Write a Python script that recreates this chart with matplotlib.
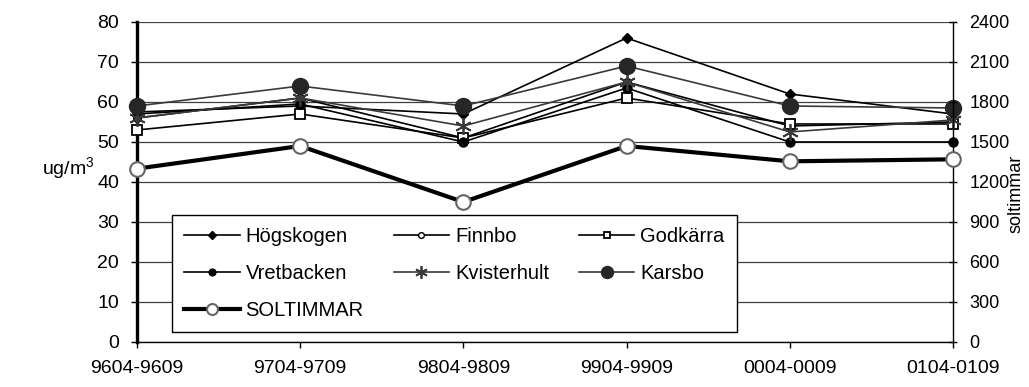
import matplotlib
matplotlib.use("Agg")
import matplotlib.pyplot as plt

plt.rcParams["font.family"] = ["Liberation Sans", "DejaVu Sans"]
plt.rcParams["mathtext.default"] = "regular"

periods = ["9604-9609", "9704-9709", "9804-9809", "9904-9909", "0004-0009", "0104-0109"]
hogskogen = [57.5, 59, 57, 76, 62, 57]
finnbo = [56, 61, 51, 65, 54, 55]
godkarra = [53, 57, 51, 61, 54.5, 54.5]
vretbacken = [57, 59.5, 50, 63.5, 50, 50]
kvisterhult = [56, 61, 54, 65, 52.5, 55.5]
karsbo = [59, 64, 59, 69, 59, 58.5]
soltimmar = [1300, 1470, 1050, 1470, 1355, 1370]

DARK = "#3a3a3a"
GRID = "#404040"
x = list(range(len(periods)))

fig = plt.figure(figsize=(10.29, 3.87), dpi=100)
ax = fig.add_axes([0.1331, 0.1163, 0.7930, 0.8269])
ax2 = ax.twinx()

common = dict(clip_on=False, zorder=3)
h1, = ax.plot(x, hogskogen, color="black", lw=1.2, marker="D", ms=5.5, mfc="black", mec="black", label="Högskogen", **common)
h2, = ax.plot(x, finnbo, color="black", lw=1.2, marker="o", ms=5.5, mfc="white", mec="black", label="Finnbo", **common)
h3, = ax.plot(x, godkarra, color="black", lw=1.2, marker="s", ms=6.5, mfc="white", mec="black", mew=1.3, label="Godkärra", **common)
h4, = ax.plot(x, vretbacken, color="black", lw=1.2, marker="o", ms=6.5, mfc="black", mec="black", label="Vretbacken", **common)
h5, = ax.plot(x, kvisterhult, color=DARK, lw=1.2, marker=(6, 2, 0), ms=12, mec=DARK, mew=1.3, label="Kvisterhult", **common)
h6, = ax.plot(x, karsbo, color=DARK, lw=1.2, marker="o", ms=11.5, mfc="#262626", mec="#262626", label="Karsbo", **common)
h7, = ax2.plot(x, soltimmar, color="black", lw=3, marker="o", ms=10.5, mfc="white", mec="#666666", mew=1.5,
               label="SOLTIMMAR", clip_on=False, zorder=3)

ax.set_xlim(0, 5)
ax.set_ylim(0, 80)
ax.set_yticks(range(0, 81, 10))
ax2.set_ylim(0, 2400)
ax2.set_yticks(range(0, 2401, 300))
ax.set_xticks(x)
ax.set_xticklabels(periods)

ax.yaxis.grid(True, color=GRID, lw=0.9)
ax.set_axisbelow(True)
ax.spines["top"].set_visible(False)
ax2.spines["top"].set_visible(False)
ax.spines["right"].set_visible(False)
ax.spines["left"].set_linewidth(2.4)
ax.spines["bottom"].set_linewidth(1.0)
ax2.spines["right"].set_linewidth(1.0)
ax2.spines["left"].set_visible(False)
ax2.spines["bottom"].set_visible(False)

ax.tick_params(axis="both", labelsize=14, length=4, width=1, direction="out", colors="black")
ax.tick_params(axis="y", pad=9)
ax.tick_params(axis="x", pad=9)
ax2.tick_params(axis="y", labelsize=13, length=6, width=1, direction="inout", pad=9)

fig.text(0.092, 0.565, "ug/m$^3$", fontsize=14, ha="right", va="center")
fig.text(0.987, 0.50, "soltimmar", fontsize=13, rotation=90, ha="center", va="center")

handles = [h1, h4, h7, h2, h5, h3, h6]
leg = ax.legend(handles=handles, labels=[h.get_label() for h in handles], ncol=3,
                loc="lower left", bbox_to_anchor=(0.043, 0.031, 0.692, 0.37), mode="expand",
                fontsize=14.5, frameon=True, fancybox=False, framealpha=1, edgecolor="black",
                handlelength=2.75, handletextpad=0.3, labelspacing=0.9, borderaxespad=0,
                columnspacing=1.0, borderpad=0.6, markerscale=0.75)
leg.get_frame().set_linewidth(1.0)
leg.set_zorder(5)

fig.savefig("out.png", dpi=100)
